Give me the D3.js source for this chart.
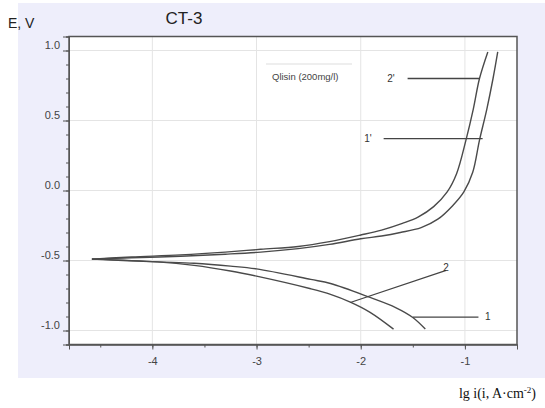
<!DOCTYPE html>
<html>
<head>
<meta charset="utf-8">
<script src="https://cdn.jsdelivr.net/npm/d3@7"></script>
<style>
  body { margin: 0; background: #fff; }
  svg { display: block; font-family: "Liberation Sans", Arial, sans-serif; }
  .axis path, .axis line { stroke: #555; }
  .axis text { fill: #444; font-size: 11px; }
</style>
</head>
<body>
<script>
// curve 2' (anodic, upper branch)
var lg2p = [-4.58, -4.2, -3.73, -3.3, -2.96, -2.6, -2.3, -2.0, -1.8, -1.6, -1.45, -1.3, -1.17, -1.08, -0.99, -0.92, -0.86, -0.78];
var E2p  = [-0.49, -0.475, -0.46, -0.44, -0.42, -0.40, -0.365, -0.318, -0.283, -0.235, -0.19, -0.115, -0.01, 0.12, 0.36, 0.58, 0.80, 0.99];
// curve 1' (anodic, lower branch)
var lg1p = [-4.58, -4.2, -3.73, -3.3, -2.96, -2.6, -2.3, -2.0, -1.8, -1.62, -1.42, -1.26, -1.12, -1.01, -0.925, -0.86, -0.79, -0.73, -0.685];
var E1p  = [-0.49, -0.48, -0.47, -0.455, -0.44, -0.415, -0.385, -0.345, -0.325, -0.30, -0.265, -0.205, -0.11, -0.01, 0.13, 0.36, 0.58, 0.80, 0.99];
// curve 1 (cathodic, right)
var lg1 = [-4.58, -3.95, -3.6, -3.25, -3.0, -2.48, -2.29, -1.91, -1.665, -1.50, -1.38];
var E1  = [-0.49, -0.51, -0.52, -0.54, -0.56, -0.635, -0.664, -0.764, -0.836, -0.907, -0.99];
// curve 2 (cathodic, left)
var lg2 = [-4.58, -3.95, -3.6, -3.25, -3.0, -2.48, -2.29, -2.1, -1.91, -1.685];
var E2  = [-0.49, -0.51, -0.535, -0.575, -0.612, -0.702, -0.742, -0.797, -0.87, -0.99];

// label pointers: text, text position, line from -> to
var labelText = ["2'", "1'", "2", "1"];
var labelLg   = [-1.71, -1.93, -1.18, -0.78];
var labelE    = [0.80, 0.37, -0.55, -0.90];
var lineFrom  = [[-1.55, 0.80], [-1.78, 0.37], [-2.10, -0.80], [-1.50, -0.905]];
var lineTo    = [[-0.86, 0.80], [-0.83, 0.37], [-1.18, -0.57], [-0.87, -0.905]];

var xMajor = [-4, -3, -2, -1];
var yMajor = [-1.0, -0.5, 0.0, 0.5, 1.0];

var W = 545, H = 408;
var margin = {top: 36.5, right: 28, bottom: 63.5, left: 69};
var width = W - margin.left - margin.right,
    height = H - margin.top - margin.bottom;

var svg = d3.select("body").append("svg")
    .attr("width", W)
    .attr("height", H);

// lavender panel
svg.append("rect")
    .attr("x", 18).attr("y", 3)
    .attr("width", W - 18).attr("height", 375)
    .attr("fill", "#eeeefb");

var g = svg.append("g")
    .attr("transform", "translate(" + margin.left + "," + margin.top + ")");

var x = d3.scaleLinear().domain([-4.8, -0.5]).range([0, width]);
var y = d3.scaleLinear().domain([-1.1, 1.1]).range([height, 0]);

var hyphen = f => (d => f(d).replace("\u2212", "-"));

g.append("rect")
    .attr("width", width).attr("height", height)
    .attr("fill", "#fff");

// grid
g.selectAll(".vgrid").data(xMajor).enter().append("line")
    .attr("x1", d => x(d)).attr("x2", d => x(d))
    .attr("y1", 0).attr("y2", height)
    .attr("stroke", "#e4e4e4");
g.selectAll(".hgrid").data(yMajor).enter().append("line")
    .attr("x1", 0).attr("x2", width)
    .attr("y1", d => y(d)).attr("y2", d => y(d))
    .attr("stroke", "#e4e4e4");

// legend
g.append("line")
    .attr("x1", 266 - margin.left).attr("x2", 352 - margin.left)
    .attr("y1", 64 - margin.top).attr("y2", 64 - margin.top)
    .attr("stroke", "#ddd");
g.append("text")
    .attr("x", 272 - margin.left).attr("y", 80 - margin.top)
    .style("font-size", "9.5px").attr("fill", "#444")
    .text("Qlisin (200mg/l)");

// axes
var yMinor = d3.range(-11, 12).map(d => d / 10);
g.append("g").attr("class", "axis")
    .call(d3.axisLeft(y).tickValues(yMinor).tickSize(3).tickFormat(""));
var yAx = g.append("g").attr("class", "axis")
    .call(d3.axisLeft(y).tickValues(yMajor).tickSize(6).tickPadding(3).tickFormat(hyphen(d3.format(".1f"))));
yAx.selectAll("text").attr("dy", "-0.15em");

var xMinor = d3.range(-9, 0).map(d => d / 2);
g.append("g").attr("class", "axis")
    .attr("transform", "translate(0," + height + ")")
    .call(d3.axisBottom(x).tickValues(xMinor).tickSize(3).tickFormat(""));
g.append("g").attr("class", "axis")
    .attr("transform", "translate(0," + height + ")")
    .call(d3.axisBottom(x).tickValues(xMajor).tickSize(5).tickPadding(8).tickFormat(hyphen(d3.format("d"))));

// frame
g.append("rect")
    .attr("width", width).attr("height", height)
    .attr("fill", "none").attr("stroke", "#555").attr("stroke-width", 1.5);

// curves
var line = d3.line()
    .x(d => x(d[0]))
    .y(d => y(d[1]))
    .curve(d3.curveCatmullRom.alpha(0.5));

[[lg2p, E2p], [lg1p, E1p], [lg1, E1], [lg2, E2]].forEach(function(c) {
    g.append("path")
        .attr("d", line(d3.zip(c[0], c[1])))
        .attr("fill", "none")
        .attr("stroke", "#4a4a4a")
        .attr("stroke-width", 1.4);
});

// pointer lines and labels
labelText.forEach(function(t, i) {
    g.append("line")
        .attr("x1", x(lineFrom[i][0])).attr("y1", y(lineFrom[i][1]))
        .attr("x2", x(lineTo[i][0])).attr("y2", y(lineTo[i][1]))
        .attr("stroke", "#444").attr("stroke-width", 1.3);
    g.append("text")
        .attr("x", x(labelLg[i])).attr("y", y(labelE[i]))
        .attr("dy", "0.35em")
        .attr("text-anchor", "middle")
        .style("font-size", "10px").attr("fill", "#333")
        .text(t);
});

// titles
svg.append("text")
    .attr("x", 184).attr("y", 24)
    .attr("text-anchor", "middle")
    .style("font-size", "17px").attr("fill", "#222")
    .text("CT-3");
svg.append("text")
    .attr("x", 8).attr("y", 28)
    .style("font-size", "14px").attr("fill", "#222")
    .text("E, V");

var xl = svg.append("text")
    .attr("x", 536).attr("y", 398)
    .attr("text-anchor", "end")
    .style("font-family", "'Liberation Serif', 'Times New Roman', serif")
    .style("font-size", "14px").attr("fill", "#111");
xl.append("tspan").text("lg i(i, A\u00b7cm");
xl.append("tspan").attr("dy", "-5").style("font-size", "9px").text("-2");
xl.append("tspan").attr("dy", "5").text(")");
</script>
</body>
</html>
